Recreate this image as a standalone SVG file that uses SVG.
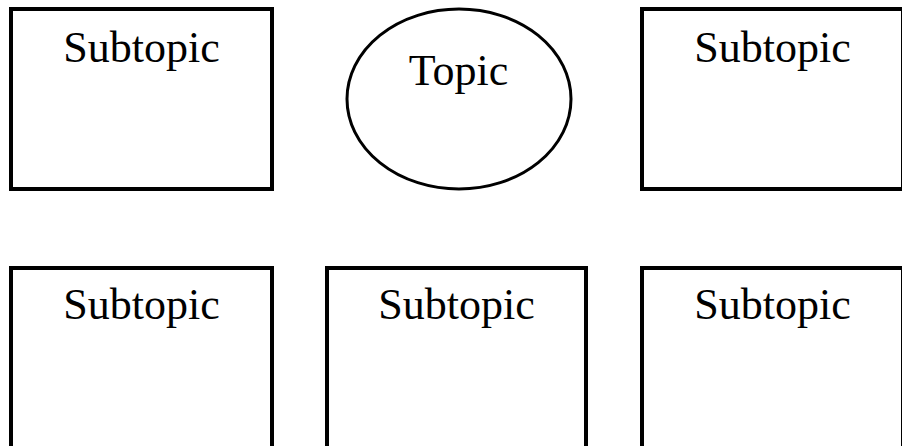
<svg xmlns="http://www.w3.org/2000/svg" width="902" height="446" viewBox="0 0 902 446">
  <style>
    .box { fill: #ffffff; stroke: #000000; stroke-width: 4; }
    .topic { fill: #ffffff; stroke: #000000; stroke-width: 3; }
    .label { font-family: "Liberation Serif", "Times New Roman", serif; font-size: 44px; fill: #000000; text-anchor: middle; }
  </style>
  <rect x="0" y="0" width="902" height="446" fill="#ffffff"/>

  <g id="subtopic-top-left">
    <rect class="box" x="11" y="9" width="261" height="180"/>
    <text class="label" x="141.5" y="62">Subtopic</text>
  </g>

  <g id="topic">
    <ellipse class="topic" cx="459" cy="99" rx="112" ry="90"/>
    <text class="label" x="458.5" y="85">Topic</text>
  </g>

  <g id="subtopic-top-right">
    <rect class="box" x="642" y="9" width="261" height="180"/>
    <text class="label" x="772.5" y="62">Subtopic</text>
  </g>

  <g id="subtopic-bottom-left">
    <rect class="box" x="11" y="268" width="261" height="180"/>
    <text class="label" x="141.5" y="319">Subtopic</text>
  </g>

  <g id="subtopic-bottom-middle">
    <rect class="box" x="327" y="268" width="259" height="180"/>
    <text class="label" x="456.5" y="319">Subtopic</text>
  </g>

  <g id="subtopic-bottom-right">
    <rect class="box" x="642" y="268" width="261" height="180"/>
    <text class="label" x="772.5" y="319">Subtopic</text>
  </g>

  <g id="connectors"/>
</svg>
